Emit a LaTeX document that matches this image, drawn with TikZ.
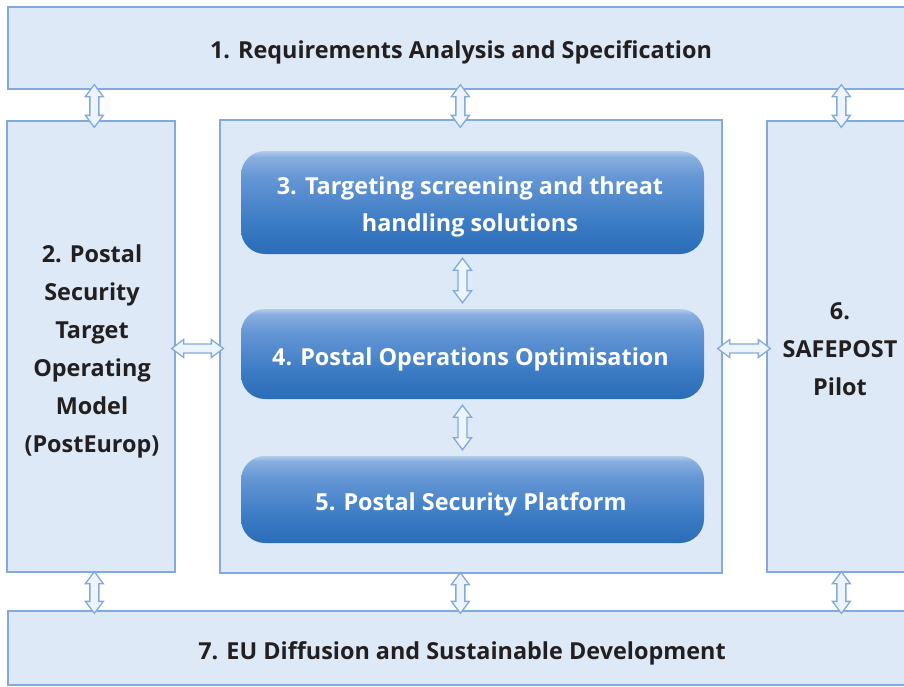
\documentclass[tikz,border=0pt]{standalone}
\usepackage{fontspec}
\setmainfont{Open Sans}
\usetikzlibrary{calc}
\definecolor{boxfill}{HTML}{DDE9F6}
\definecolor{boxline}{HTML}{82AADF}
\definecolor{arrfill}{HTML}{EEF4FB}
\definecolor{txt}{HTML}{231F20}
\definecolor{btA}{HTML}{2B6CB8}
\definecolor{btB}{HTML}{3B7BC4}
\definecolor{btC}{HTML}{6496D4}
\definecolor{btD}{HTML}{88AEE0}
\definecolor{btE}{HTML}{B3CCEB}
\pgfdeclareverticalshading{btnshade}{100bp}{color(0bp)=(btA); color(25bp)=(btA); color(40bp)=(btB); color(62bp)=(btC); color(72bp)=(btD); color(75bp)=(btE); color(100bp)=(btE)}
\newcommand\vdarrow[2]{\draw[arrstyle] let \p1=(#1), \p2=(#2) in
  (\x1-4.5pt,\y1-12pt) -- (\x1-9pt,\y1-12pt) -- (\x1,\y1) -- (\x1+9pt,\y1-12pt) -- (\x1+4.5pt,\y1-12pt)
  -- (\x1+4.5pt,\y2+12pt) -- (\x1+9pt,\y2+12pt) -- (\x1,\y2) -- (\x1-9pt,\y2+12pt) -- (\x1-4.5pt,\y2+12pt) -- cycle;}
\newcommand\hdarrow[2]{\draw[arrstyle] let \p1=(#1), \p2=(#2) in
  (\x1+12pt,\y1+4.5pt) -- (\x1+12pt,\y1+9pt) -- (\x1,\y1) -- (\x1+12pt,\y1-9pt) -- (\x1+12pt,\y1-4.5pt)
  -- (\x2-12pt,\y1-4.5pt) -- (\x2-12pt,\y1-9pt) -- (\x2,\y1) -- (\x2-12pt,\y1+9pt) -- (\x2-12pt,\y1+4.5pt) -- cycle;}
\tikzset{
  lbox/.style={draw=boxline, fill=boxfill, line width=1.3pt, inner sep=0pt, rectangle},
  btn/.style={rectangle, rounded corners=24pt, shading=btnshade, draw=none, inner sep=0pt},
  dtext/.style={text=txt, font=\fontsize{23.4}{38}\selectfont\bfseries, align=center, inner sep=0pt},
  wtext/.style={text=white, font=\fontsize{23.4}{37}\selectfont\bfseries, align=center, inner sep=0pt},
  arrstyle/.style={draw=boxline, fill=arrfill, line width=1.3pt, line join=miter}
}
\begin{document}
\begin{tikzpicture}[x=1pt,y=-1pt]
\useasboundingbox (0,0) rectangle (904,686);
\fill[white] (0,0) rectangle (904,686);
% boxes
\node[lbox, minimum width=898, minimum height=82] (b1) at (457,48) {};
\node[lbox, minimum width=168, minimum height=451] (b2) at (91,346.5) {};
\node[lbox, minimum width=502, minimum height=453] (bc) at (471,346.5) {};
\node[lbox, minimum width=139, minimum height=451] (b6) at (836.5,346.5) {};
\node[lbox, minimum width=898, minimum height=74] (b7) at (457,648) {};
\node[btn, minimum width=463, minimum height=103] (b3) at (472.5,202.5) {};
\node[btn, minimum width=463, minimum height=90] (b4) at (472.5,354) {};
\node[btn, minimum width=463, minimum height=87] (b5) at (472.5,499.5) {};
% texts
\node[dtext] (t1) at (461,52) {1. Requirements Analysis and Specification};
\node[dtext] (t2) at (92,351) {2. Postal\\Security\\Target\\Operating\\Model\\(PostEurop)};
\node[dtext] (t6) at (840,349.5) {6.\\SAFEPOST\\Pilot};
\node[dtext] (t7) at (462,653) {7. EU Diffusion and Sustainable Development};
\node[wtext] (t3) at (470,207) {3. Targeting screening and threat\\handling solutions};
\node[wtext] (t4) at (470.5,359) {4. Postal Operations Optimisation};
\node[wtext] (t5) at (471,504) {5. Postal Security Platform};
% arrow end points
\coordinate (a1t) at ($(b1.south west)+(87,-5)$);
\coordinate (a1b) at ($(b2.north west)+(88,7)$);
\coordinate (a2t) at ($(b1.south west)+(453,-5)$);
\coordinate (a2b) at ($(bc.north west)+(241,8)$);
\coordinate (a3t) at ($(b1.south west)+(834,-5)$);
\coordinate (a3b) at ($(b6.north west)+(75,7)$);
\coordinate (a4t) at ($(b2.south west)+(88,-1)$);
\coordinate (a4b) at ($(b7.north west)+(87,3)$);
\coordinate (a5t) at ($(bc.south west)+(241,-1)$);
\coordinate (a5b) at ($(b7.north west)+(453,3)$);
\coordinate (a6t) at ($(b6.south west)+(75,-1)$);
\coordinate (a6b) at ($(b7.north west)+(834,3)$);
\coordinate (h1l) at ($(b2.east)+(-4,2)$);
\coordinate (h1r) at ($(bc.west)+(4,2)$);
\coordinate (h2l) at ($(bc.east)+(-5,2)$);
\coordinate (h2r) at ($(b6.west)+(4,2)$);
\coordinate (m1t) at ($(b3.south)+(-10,4)$);
\coordinate (m1b) at ($(b4.north)+(-10,-6)$);
\coordinate (m2t) at ($(b4.south)+(-10,6)$);
\coordinate (m2b) at ($(b5.north)+(-10,-6)$);
% arrows
\vdarrow{a1t}{a1b}
\vdarrow{a2t}{a2b}
\vdarrow{a3t}{a3b}
\vdarrow{a4t}{a4b}
\vdarrow{a5t}{a5b}
\vdarrow{a6t}{a6b}
\hdarrow{h1l}{h1r}
\hdarrow{h2l}{h2r}
\vdarrow{m1t}{m1b}
\vdarrow{m2t}{m2b}
\end{tikzpicture}
\end{document}
